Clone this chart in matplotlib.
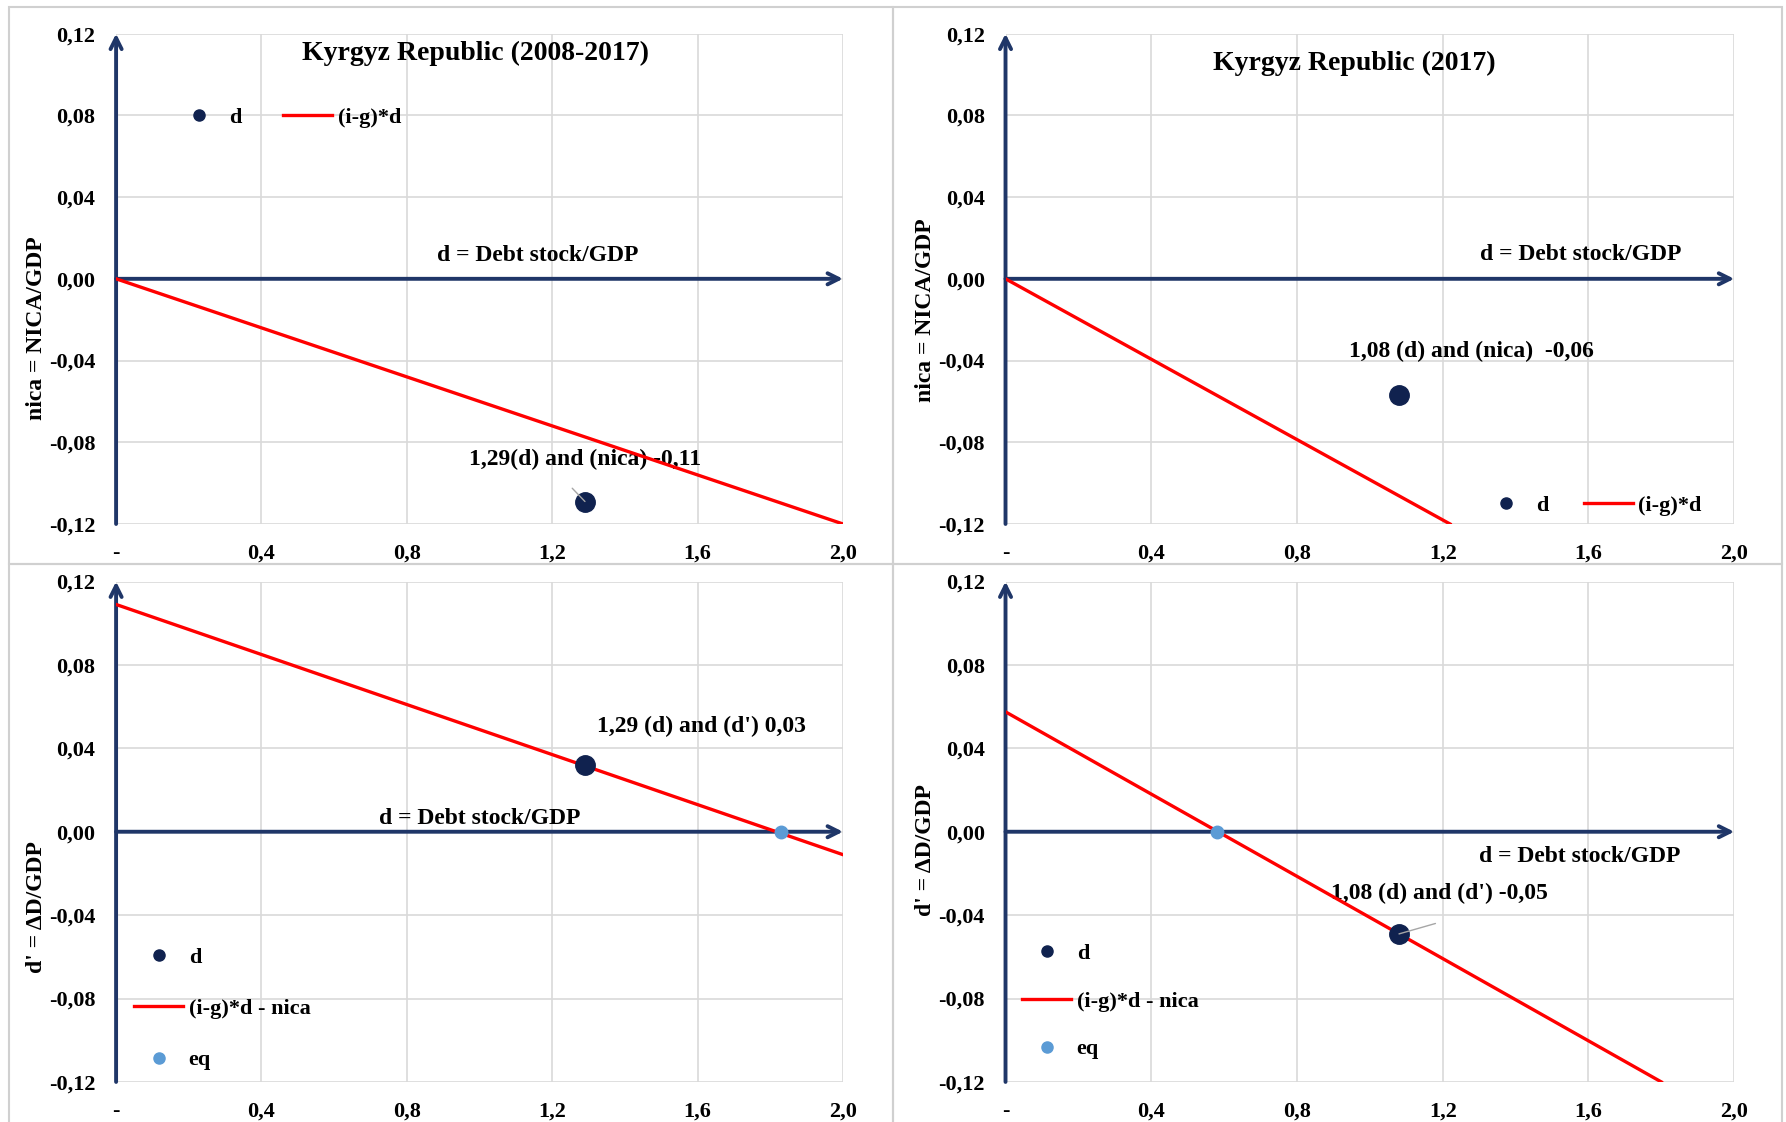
import matplotlib.pyplot as plt
from matplotlib.lines import Line2D
from matplotlib.patches import Rectangle

# data
x_ticks = [0, 0.4, 0.8, 1.2, 1.6, 2.0]
x_ticklabels = ["-", "0,4", "0,8", "1,2", "1,6", "2,0"]
y_ticks = [-0.12, -0.08, -0.04, 0.0, 0.04, 0.08, 0.12]
y_ticklabels = ["-0,12", "-0,08", "-0,04", "0,00", "0,04", "0,08", "0,12"]

# top left: Kyrgyz Republic (2008-2017)
tl_line_x = [0.0, 2.0]
tl_line_y = [0.0, -0.12]
tl_point = (1.29, -0.109)
# top right: Kyrgyz Republic (2017)
tr_line_x = [0.0, 1.22]
tr_line_y = [0.0, -0.12]
tr_point = (1.08, -0.057)
# bottom left: d' for 2008-2017
bl_line_x = [0.0, 2.0]
bl_line_y = [0.109, -0.011]
bl_point = (1.29, 0.032)
bl_eq = (1.83, 0.0)
# bottom right: d' for 2017
br_line_x = [0.0, 1.8]
br_line_y = [0.0575, -0.12]
br_point = (1.08, -0.049)
br_eq = (0.58, 0.0)

navy = "#1F3668"
dot = "#10224F"
red = "#FF0000"
eqc = "#5B9BD5"
grid = "#D9D9D9"
FONT = "Liberation Serif"

plt.rcParams["font.family"] = FONT
plt.rcParams["font.weight"] = "bold"

fig = plt.figure(figsize=(17.86, 11.22), dpi=100)

# panel borders
for r in [(0.005, 0.497, 0.495, 0.497), (0.5, 0.497, 0.4975, 0.497),
          (0.005, -0.01, 0.495, 0.507), (0.5, -0.01, 0.4975, 0.507)]:
    fig.add_artist(Rectangle((r[0], r[1]), r[2], r[3], transform=fig.transFigure,
                             fill=False, edgecolor="#D0D0D0", lw=1.5))

ax_tl = fig.add_axes([0.065, 0.533, 0.407, 0.437])
ax_tr = fig.add_axes([0.563, 0.533, 0.408, 0.437])
ax_bl = fig.add_axes([0.065, 0.0357, 0.407, 0.446])
ax_br = fig.add_axes([0.563, 0.0357, 0.408, 0.446])


def setup(ax, ylabel, ylab_y):
    ax.set_xlim(0, 2.0)
    ax.set_ylim(-0.12, 0.12)
    ax.set_xticks(x_ticks)
    ax.set_xticklabels(x_ticklabels)
    ax.set_yticks(y_ticks)
    ax.set_yticklabels(y_ticklabels)
    ax.tick_params(length=0, labelsize=16, pad=15)
    ax.tick_params(axis="x", pad=14)
    for s in ax.spines.values():
        s.set_visible(False)
    ax.grid(True, color=grid, lw=1.2)
    ax.set_axisbelow(True)
    ax.set_ylabel(ylabel, fontsize=17, fontweight="bold")
    ax.yaxis.set_label_coords(-0.095, ylab_y)
    # axis arrows
    ax.annotate("", xy=(0, 0.12), xytext=(0, -0.12),
                arrowprops=dict(arrowstyle="->,head_length=0.8,head_width=0.4",
                                color=navy, lw=2.8, shrinkA=0, shrinkB=0),
                annotation_clip=False, zorder=3)
    ax.annotate("", xy=(2.0, 0), xytext=(0, 0),
                arrowprops=dict(arrowstyle="->,head_length=0.8,head_width=0.4",
                                color=navy, lw=2.8, shrinkA=0, shrinkB=0),
                annotation_clip=False, zorder=3)


setup(ax_tl, "nica = NICA/GDP", 0.40)
setup(ax_tr, "nica = NICA/GDP", 0.436)
setup(ax_bl, "d' = ΔD/GDP", 0.35)
setup(ax_br, "d' = ΔD/GDP", 0.464)

leader = dict(arrowstyle="-", color="#A6A6A6", lw=1, shrinkA=0, shrinkB=0)

# top left
ax_tl.plot(tl_line_x, tl_line_y, color=red, lw=2.4, zorder=4)
ax_tl.plot(*tl_point, "o", color=dot, ms=14, zorder=5)
ax_tl.text(1.29, -0.0885, "1,29(d) and (nica) -0,11", ha="center", va="center", fontsize=17)
ax_tl.annotate("", xy=tl_point, xytext=(1.255, -0.1025), arrowprops=leader, zorder=6)
ax_tl.text(0.99, 0.1105, "Kyrgyz Republic (2008-2017)", ha="center", va="center", fontsize=20)
ax_tl.text(1.16, 0.0115, "d = Debt stock/GDP", ha="center", va="center", fontsize=17)

# top right
ax_tr.plot(tr_line_x, tr_line_y, color=red, lw=2.4, zorder=4)
ax_tr.plot(*tr_point, "o", color=dot, ms=14, zorder=5)
ax_tr.text(1.28, -0.0355, "1,08 (d) and (nica)  -0,06", ha="center", va="center", fontsize=17)
ax_tr.text(0.956, 0.1055, "Kyrgyz Republic (2017)", ha="center", va="center", fontsize=20)
ax_tr.text(1.58, 0.012, "d = Debt stock/GDP", ha="center", va="center", fontsize=17)

# bottom left
ax_bl.plot(bl_line_x, bl_line_y, color=red, lw=2.4, zorder=4)
ax_bl.plot(*bl_point, "o", color=dot, ms=14, zorder=5)
ax_bl.plot(*bl_eq, "o", color=eqc, ms=9, zorder=5)
ax_bl.text(1.61, 0.0505, "1,29 (d) and (d') 0,03", ha="center", va="center", fontsize=17)
ax_bl.text(1.0, 0.0065, "d = Debt stock/GDP", ha="center", va="center", fontsize=17)

# bottom right
ax_br.plot(br_line_x, br_line_y, color=red, lw=2.4, zorder=4)
ax_br.plot(*br_point, "o", color=dot, ms=14, zorder=5)
ax_br.plot(*br_eq, "o", color=eqc, ms=9, zorder=5)
ax_br.text(1.19, -0.0295, "1,08 (d) and (d') -0,05", ha="center", va="center", fontsize=17)
ax_br.annotate("", xy=br_point, xytext=(1.18, -0.044), arrowprops=leader, zorder=6)
ax_br.text(1.575, -0.012, "d = Debt stock/GDP", ha="center", va="center", fontsize=17)

# legends
h_d = Line2D([], [], ls="none", marker="o", color=dot, ms=8)
h_l = Line2D([], [], color=red, lw=2.4)
h_eq = Line2D([], [], ls="none", marker="o", color=eqc, ms=8)
leg_kw = dict(frameon=False, prop={"family": FONT, "weight": "bold", "size": 16},
              handlelength=2.2, handletextpad=0.25, borderaxespad=0, borderpad=0)

ax_tl.legend([h_d, h_l], ["d", "(i-g)*d"], ncol=2, loc="center left",
             bbox_to_anchor=(0.08, 0.828), columnspacing=1.9, **leg_kw)
ax_tr.legend([h_d, h_l], ["d", "(i-g)*d"], ncol=2, loc="center left",
             bbox_to_anchor=(0.653, 0.0375), columnspacing=1.6, **leg_kw)
ax_bl.legend([h_d, h_l, h_eq], ["d", "(i-g)*d - nica", "eq"], loc="center left",
             bbox_to_anchor=(0.025, 0.146), labelspacing=1.38, **leg_kw)
ax_br.legend([h_d, h_l, h_eq], ["d", "(i-g)*d - nica", "eq"], loc="center left",
             bbox_to_anchor=(0.023, 0.161), labelspacing=1.22, **leg_kw)

plt.savefig("out.png", dpi=100)
